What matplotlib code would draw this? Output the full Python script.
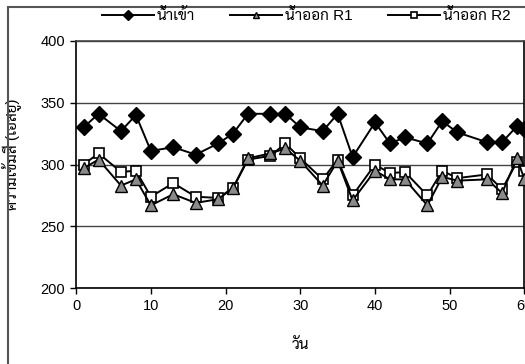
import matplotlib
matplotlib.use('Agg')
import matplotlib.pyplot as plt
from matplotlib.patches import Rectangle

# วันที่เก็บตัวอย่าง
days = [1, 3, 6, 8, 10, 13, 16, 19, 21, 23, 26, 28, 30, 33, 35, 37, 40, 42,
        44, 47, 49, 51, 55, 57, 59, 60]

# ค่าความเข้มสี (เอสยู)
inflow = [330, 341, 327, 340, 311, 314, 308, 317, 325, 341, 341, 341, 330,
          327, 341, 306, 334, 317, 322, 317, 335, 326, 318, 318, 331, 329]
out_r1 = [297, 304, 283, 288, 267, 276, 269, 272, 281, 305, 309, 313, 303,
          283, 303, 271, 295, 288, 288, 267, 290, 287, 288, 277, 305, 288]
out_r2 = [300, 309, 294, 295, 274, 285, 274, 273, 281, 304, 307, 317, 305,
          288, 304, 275, 300, 293, 294, 275, 295, 289, 292, 280, 302, 295]

labels = ['น้ำเข้า', 'น้ำออก R1', 'น้ำออก R2']
xticks = [0, 10, 20, 30, 40, 50, 60]
yticks = [200, 250, 300, 350, 400]

plt.rcParams['font.family'] = ['Liberation Sans', 'Sarabun']
plt.rcParams['font.size'] = 10

fig = plt.figure(figsize=(5.25, 3.64), dpi=100)
ax = fig.add_axes([0.145, 0.208, 0.854, 0.68])

l1, = ax.plot(days, inflow, color='black', lw=1.4, marker='D', ms=8.5,
              mfc='black', mec='black', zorder=4, clip_on=False)
l3, = ax.plot(days, out_r2, color='black', lw=1.4, marker='s', ms=7.5,
              mfc='white', mec='black', mew=1.2, zorder=3, clip_on=False)
l2, = ax.plot(days, out_r1, color='black', lw=1.4, marker='^', ms=8,
              mfc='#8a8a8a', mec='black', mew=1.0, zorder=3.5, clip_on=False)

ax.set_xlim(0, 60)
ax.set_ylim(200, 400)
ax.set_xticks(xticks)
ax.set_yticks(yticks)
ax.yaxis.grid(True, color='#444444', lw=1.0)
ax.set_axisbelow(True)
for s in ax.spines.values():
    s.set_color('black')
    s.set_linewidth(1.2)
ax.spines['top'].set_color('#444444')
ax.tick_params(direction='out', length=4, width=1, pad=4, labelsize=10.5)

ax.set_xlabel('วัน', fontsize=11)
ax.set_ylabel('ความเข้มสี (เอสยู)', fontsize=11)
ax.xaxis.set_label_coords(0.5, -0.2)
ax.yaxis.set_label_coords(-0.12, 0.54)

fig.legend([l1, l2, l3], labels, loc='center', ncol=3, frameon=False,
           bbox_to_anchor=(0.583, 0.957), fontsize=11, handlelength=3.4,
           columnspacing=2.3, handletextpad=0.2, markerscale=0.6)

# กรอบของแผนภูมิ
fig.patches.append(Rectangle((8 / 525, -0.2), 1.2, 1.2 - 7 / 364,
                             transform=fig.transFigure, fill=False,
                             ec='#555555', lw=1.5))

fig.savefig('out.png', dpi=100)
